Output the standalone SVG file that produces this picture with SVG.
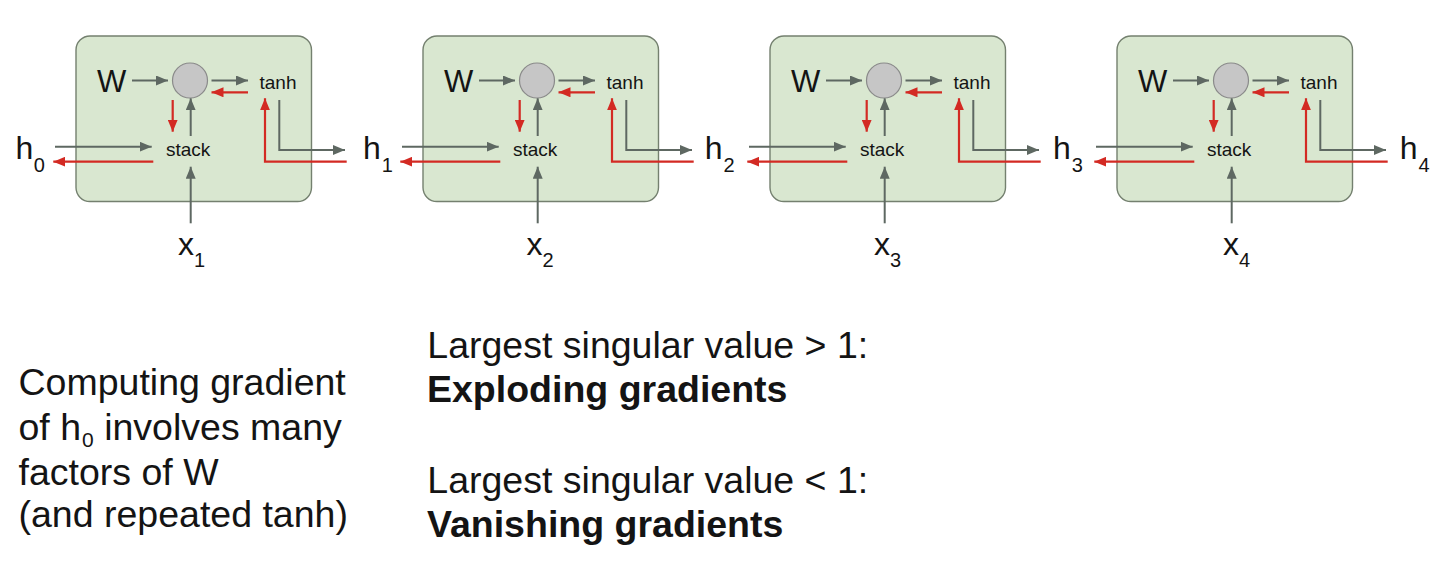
<svg xmlns="http://www.w3.org/2000/svg" width="1456" height="566" viewBox="0 0 1456 566">
<style>
.box{fill:#d9e7d0;stroke:#74806f;stroke-width:1.4}
.op{fill:#c6c6c6;stroke:#8a8a8a;stroke-width:1.2}
.t{font-family:"Liberation Sans",Arial,sans-serif;fill:#141414}
.w{font-size:31px}
.sm{font-size:19px}
.lab{font-size:32px}
.big{font-size:37.5px}
.b{font-weight:bold}
.g{fill:none;stroke:#5e6862;stroke-width:2}
.r{fill:none;stroke:#d32a23;stroke-width:2.2}
</style>
<defs>
<marker id="ag" markerUnits="userSpaceOnUse" markerWidth="12" markerHeight="10" refX="12" refY="5" orient="auto"><path d="M0,0 L12,5 L0,10 z" fill="#5e6862"/></marker>
<marker id="ar" markerUnits="userSpaceOnUse" markerWidth="12" markerHeight="10" refX="12" refY="5" orient="auto"><path d="M0,0 L12,5 L0,10 z" fill="#d32a23"/></marker>
</defs>
<rect width="1456" height="566" fill="#ffffff"/>

<g id="cell1">
<rect class="box" x="76" y="36" width="235.5" height="165.5" rx="14"/>
<circle class="op" cx="190" cy="80.5" r="17.5"/>
<text class="t w" x="97" y="91.7">W</text>
<text class="t sm" x="259.5" y="89">tanh</text>
<text class="t sm" x="166" y="156">stack</text>
</g>
<g id="cell2" transform="translate(347,0)">
<rect class="box" x="76" y="36" width="235.5" height="165.5" rx="14"/>
<circle class="op" cx="190" cy="80.5" r="17.5"/>
<text class="t w" x="97" y="91.7">W</text>
<text class="t sm" x="259.5" y="89">tanh</text>
<text class="t sm" x="166" y="156">stack</text>
</g>
<g id="cell3" transform="translate(694,0)">
<rect class="box" x="76" y="36" width="235.5" height="165.5" rx="14"/>
<circle class="op" cx="190" cy="80.5" r="17.5"/>
<text class="t w" x="97" y="91.7">W</text>
<text class="t sm" x="259.5" y="89">tanh</text>
<text class="t sm" x="166" y="156">stack</text>
</g>
<g id="cell4" transform="translate(1041,0)">
<rect class="box" x="76" y="36" width="235.5" height="165.5" rx="14"/>
<circle class="op" cx="190" cy="80.5" r="17.5"/>
<text class="t w" x="97" y="91.7">W</text>
<text class="t sm" x="259.5" y="89">tanh</text>
<text class="t sm" x="166" y="156">stack</text>
</g>

<g id="h0"><text class="t lab" x="15.5" y="159">h<tspan dx="0.5" dy="13" font-size="20">0</tspan></text></g>
<g id="h1"><text class="t lab" x="363" y="159">h<tspan dx="1" dy="13" font-size="20">1</tspan></text></g>
<g id="h2"><text class="t lab" x="704.8" y="159">h<tspan dx="1" dy="13" font-size="20">2</tspan></text></g>
<g id="h3"><text class="t lab" x="1053" y="159">h<tspan dx="1" dy="13" font-size="20">3</tspan></text></g>
<g id="h4"><text class="t lab" x="1399.8" y="159">h<tspan dx="1" dy="13" font-size="20">4</tspan></text></g>

<g id="x1"><text class="t lab" x="178" y="255">x<tspan dy="12" font-size="20">1</tspan></text></g>
<g id="x2"><text class="t lab" x="526.5" y="255">x<tspan dy="12" font-size="20">2</tspan></text></g>
<g id="x3"><text class="t lab" x="874" y="255">x<tspan dy="12" font-size="20">3</tspan></text></g>
<g id="x4"><text class="t lab" x="1223" y="255">x<tspan dy="12" font-size="20">4</tspan></text></g>

<g id="connectors">
<g id="conn1">
<path class="g" d="M132,80.5 H168" marker-end="url(#ag)"/>
<path class="g" d="M211.5,80.5 H248" marker-end="url(#ag)"/>
<path class="r" d="M248,92.3 H211.5" marker-end="url(#ar)"/>
<path class="r" d="M172.7,100 V131.7" marker-end="url(#ar)"/>
<path class="g" d="M190.7,136 V98.3" marker-end="url(#ag)"/>
<path class="g" d="M55,146.7 H151.7" marker-end="url(#ag)"/>
<path class="r" d="M153.3,161.7 H53.3" marker-end="url(#ar)"/>
<path class="g" d="M190.7,223.3 V166.7" marker-end="url(#ag)"/>
<path class="g" d="M279.3,100 V150 H345" marker-end="url(#ag)"/>
<path class="r" d="M346.7,161.7 H265 V98.3" marker-end="url(#ar)"/>
</g>
<g id="conn2" transform="translate(347,0)">
<path class="g" d="M132,80.5 H168" marker-end="url(#ag)"/>
<path class="g" d="M211.5,80.5 H248" marker-end="url(#ag)"/>
<path class="r" d="M248,92.3 H211.5" marker-end="url(#ar)"/>
<path class="r" d="M172.7,100 V131.7" marker-end="url(#ar)"/>
<path class="g" d="M190.7,136 V98.3" marker-end="url(#ag)"/>
<path class="g" d="M55,146.7 H151.7" marker-end="url(#ag)"/>
<path class="r" d="M153.3,161.7 H53.3" marker-end="url(#ar)"/>
<path class="g" d="M190.7,223.3 V166.7" marker-end="url(#ag)"/>
<path class="g" d="M279.3,100 V150 H345" marker-end="url(#ag)"/>
<path class="r" d="M346.7,161.7 H265 V98.3" marker-end="url(#ar)"/>
</g>
<g id="conn3" transform="translate(694,0)">
<path class="g" d="M132,80.5 H168" marker-end="url(#ag)"/>
<path class="g" d="M211.5,80.5 H248" marker-end="url(#ag)"/>
<path class="r" d="M248,92.3 H211.5" marker-end="url(#ar)"/>
<path class="r" d="M172.7,100 V131.7" marker-end="url(#ar)"/>
<path class="g" d="M190.7,136 V98.3" marker-end="url(#ag)"/>
<path class="g" d="M55,146.7 H151.7" marker-end="url(#ag)"/>
<path class="r" d="M153.3,161.7 H53.3" marker-end="url(#ar)"/>
<path class="g" d="M190.7,223.3 V166.7" marker-end="url(#ag)"/>
<path class="g" d="M279.3,100 V150 H345" marker-end="url(#ag)"/>
<path class="r" d="M346.7,161.7 H265 V98.3" marker-end="url(#ar)"/>
</g>
<g id="conn4" transform="translate(1041,0)">
<path class="g" d="M132,80.5 H168" marker-end="url(#ag)"/>
<path class="g" d="M211.5,80.5 H248" marker-end="url(#ag)"/>
<path class="r" d="M248,92.3 H211.5" marker-end="url(#ar)"/>
<path class="r" d="M172.7,100 V131.7" marker-end="url(#ar)"/>
<path class="g" d="M190.7,136 V98.3" marker-end="url(#ag)"/>
<path class="g" d="M55,146.7 H151.7" marker-end="url(#ag)"/>
<path class="r" d="M153.3,161.7 H53.3" marker-end="url(#ar)"/>
<path class="g" d="M190.7,223.3 V166.7" marker-end="url(#ag)"/>
<path class="g" d="M279.3,100 V150 H345" marker-end="url(#ag)"/>
<path class="r" d="M346.7,161.7 H265 V98.3" marker-end="url(#ar)"/>
</g>
</g>

<g id="note-left" class="t big">
<text x="18.5" y="395">Computing gradient</text>
<text x="18.5" y="440">of h<tspan dx="1" dy="7" font-size="21">0</tspan><tspan dy="-7"> involves many</tspan></text>
<text x="18.5" y="485">factors of W</text>
<text x="18.5" y="527">(and repeated tanh)</text>
</g>
<g id="note-right" class="t big">
<text x="427.3" y="358.3">Largest singular value &gt; 1:</text>
<text class="b" x="427" y="401.7">Exploding gradients</text>
<text x="427.3" y="493.3">Largest singular value &lt; 1:</text>
<text class="b" x="427" y="536.7">Vanishing gradients</text>
</g>
</svg>
